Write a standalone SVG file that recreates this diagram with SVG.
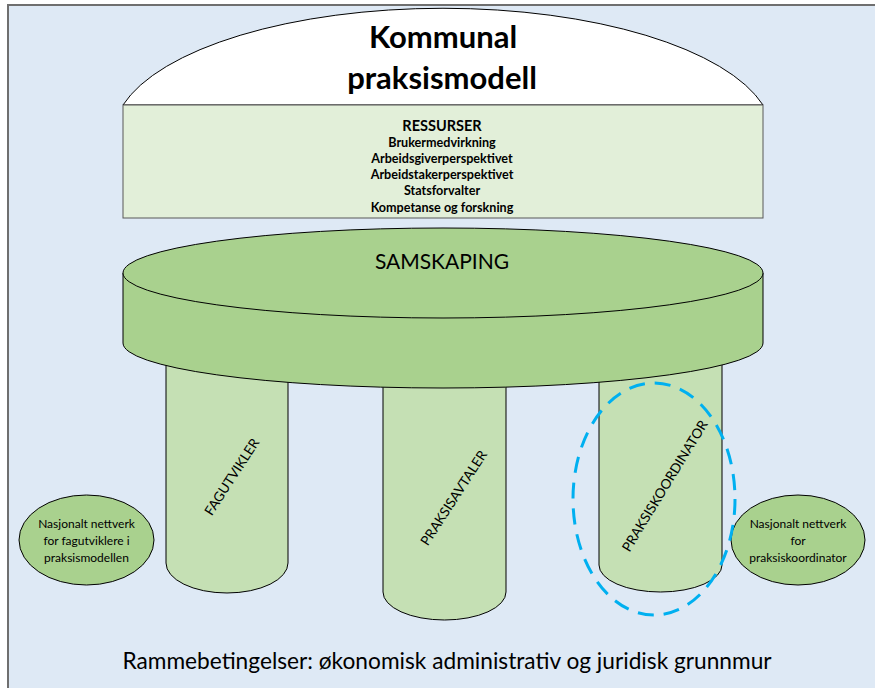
<svg xmlns="http://www.w3.org/2000/svg" width="875" height="688" viewBox="0 0 875 688">
  <style>
    text { font-family: Lato, "Liberation Sans", sans-serif; fill: #000; text-anchor: middle; }
    .title { font-size: 31px; font-weight: bold; }
    .head { font-size: 14.5px; font-weight: bold; }
    .item { font-size: 12.6px; font-weight: bold; }
    .disc { font-size: 21px; }
    .pillar-label { font-size: 13.5px; }
    .net { font-size: 12px; }
    .base { font-size: 22.7px; }
    .pillar { fill: #c5e0b4; stroke: #000; stroke-width: 1; }
    .green { fill: #a9d18e; stroke: #000; stroke-width: 1; }
  </style>

  <!-- frame -->
  <rect x="0" y="0" width="875" height="688" fill="#ffffff"/>
  <rect x="8" y="5" width="867" height="683" fill="#dee9f5"/>
  <path d="M8,688 V5 H875" fill="none" stroke="#6f6f6f" stroke-width="2"/>

  <!-- pillars -->
  <g id="pillar-fagutvikler">
    <path class="pillar" d="M166,330 V563 A61,30 0 0 0 288,563 V330"/>
    <text class="pillar-label" transform="translate(232,477) rotate(-57)" dy="4.5">FAGUTVIKLER</text>
  </g>
  <g id="pillar-praksisavtaler">
    <path class="pillar" d="M383,330 V592 A61.5,28 0 0 0 506,592 V330"/>
    <text class="pillar-label" transform="translate(454,498) rotate(-57)" dy="4.5">PRAKSISAVTALER</text>
  </g>
  <g id="pillar-praksiskoordinator">
    <path class="pillar" d="M599,330 V565 A61.5,27 0 0 0 722,565 V330"/>
    <text class="pillar-label" transform="translate(665,486) rotate(-58.5)" dy="4.5">PRAKSISKOORDINATOR</text>
  </g>

  <!-- samskaping disc -->
  <g id="samskaping">
    <path class="green" d="M123,273 V343 A320,45 0 0 0 763,343 V273"/>
    <ellipse class="green" cx="443" cy="273" rx="320" ry="45"/>
    <text class="disc" x="442" y="269">SAMSKAPING</text>
  </g>

  <!-- dome -->
  <g id="kommunal-praksismodell">
    <path d="M123,105 A330,128 0 0 1 763,105 Z" fill="#ffffff" stroke="#000" stroke-width="1"/>
    <text class="title" x="443" y="48">Kommunal</text>
    <text class="title" x="442" y="89">praksismodell</text>
  </g>

  <!-- resources -->
  <g id="ressurser">
    <rect x="123" y="105" width="640" height="113" fill="#e2efd9" stroke="#595959" stroke-width="1"/>
    <text class="head" x="442" y="131">RESSURSER</text>
    <text class="item" x="442" y="147">Brukermedvirkning</text>
    <text class="item" x="442" y="163">Arbeidsgiverperspektivet</text>
    <text class="item" x="442" y="179">Arbeidstakerperspektivet</text>
    <text class="item" x="442" y="195">Statsforvalter</text>
    <text class="item" x="442" y="212">Kompetanse og forskning</text>
  </g>

  <!-- national networks -->
  <g id="nettverk-fagutviklere">
    <ellipse class="green" cx="86.5" cy="540" rx="67.5" ry="45"/>
    <text class="net" x="86.5" y="528">Nasjonalt nettverk</text>
    <text class="net" x="86.5" y="545">for fagutviklere i</text>
    <text class="net" x="86.5" y="562">praksismodellen</text>
  </g>
  <g id="nettverk-praksiskoordinator">
    <ellipse class="green" cx="798" cy="540" rx="67" ry="45"/>
    <text class="net" x="798" y="528">Nasjonalt nettverk</text>
    <text class="net" x="798" y="545">for</text>
    <text class="net" x="798" y="562">praksiskoordinator</text>
  </g>

  <!-- highlight around praksiskoordinator -->
  <g id="highlight">
    <ellipse cx="654" cy="499" rx="81" ry="116" fill="none" stroke="#00b0f0" stroke-width="3" stroke-dasharray="16 10"/>
  </g>

  <!-- foundation -->
  <g id="rammebetingelser">
    <text class="base" x="447" y="669">Rammebetingelser: økonomisk administrativ og juridisk grunnmur</text>
  </g>
</svg>
